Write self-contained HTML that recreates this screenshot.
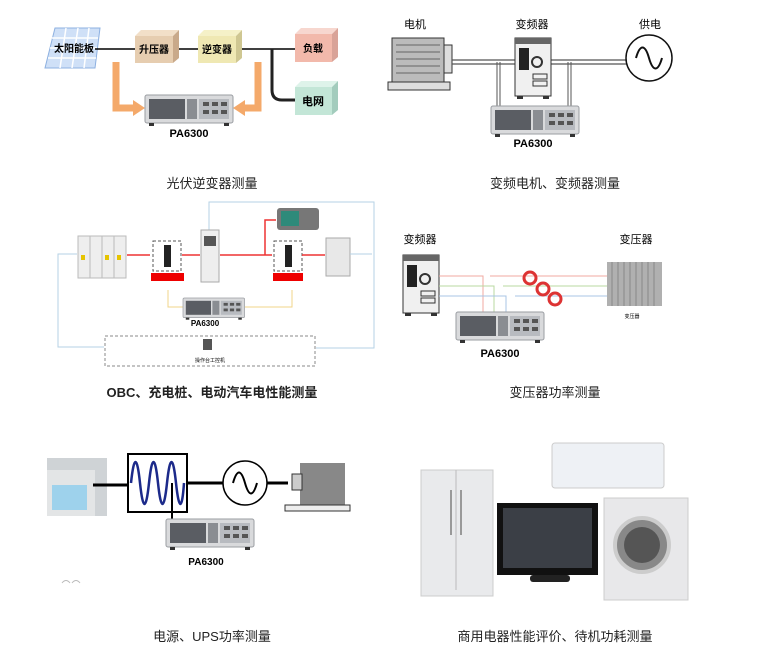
<!DOCTYPE html>
<html><head><meta charset="utf-8"><style>
html,body{margin:0;padding:0;background:#fff;}
body{width:760px;height:666px;overflow:hidden;}
svg text{font-family:"Liberation Sans","Noto Sans CJK SC",sans-serif;}
</style></head><body>
<svg width="760" height="666" viewBox="0 0 760 666" xmlns="http://www.w3.org/2000/svg">
<defs>
<g id="dev">
 <rect x="0" y="0" width="88" height="28" rx="2" fill="#d9dadc" stroke="#9a9da2"/>
 <rect x="4" y="4" width="36" height="20" fill="#5a5d63"/>
 <rect x="42" y="4" width="10" height="20" fill="#8a8d92"/>
 <rect x="54" y="4" width="30" height="20" fill="#b8bbc0"/>
 <rect x="58" y="7" width="6" height="4" fill="#555"/><rect x="67" y="7" width="6" height="4" fill="#555"/><rect x="76" y="7" width="6" height="4" fill="#555"/>
 <rect x="58" y="15" width="6" height="4" fill="#555"/><rect x="67" y="15" width="6" height="4" fill="#555"/><rect x="76" y="15" width="6" height="4" fill="#555"/>
 <rect x="4" y="28" width="5" height="3" fill="#333"/><rect x="79" y="28" width="5" height="3" fill="#333"/>
</g>
<g id="inv">
 <rect x="0" y="0" width="36" height="58" fill="#f0f0f0" stroke="#333"/>
 <rect x="0" y="0" width="36" height="6" fill="#666"/>
 <rect x="4" y="10" width="10" height="22" fill="#222"/>
 <circle cx="22" cy="24" r="5" fill="none" stroke="#333" stroke-width="2"/>
 <rect x="18" y="36" width="14" height="5" fill="none" stroke="#333"/>
 <rect x="18" y="43" width="14" height="5" fill="none" stroke="#333"/>
 <rect x="2" y="58" width="6" height="3" fill="#333"/><rect x="28" y="58" width="6" height="3" fill="#333"/>
</g>
</defs>

<!-- Panel 1 -->
<g>
 <polygon points="55,28 100,28 95,68 45,68" fill="#cfe0f7" stroke="#8db0e0"/>
 <path d="M52,38 H98 M50,48 H97 M48,58 H96 M66,28 L60,68 M78,28 L72,68 M89,28 L84,68" stroke="#fff" stroke-width="1.5"/>
 <line x1="95" y1="49" x2="295" y2="49" stroke="#000" stroke-width="1.5"/>
 <path d="M272,49 V90 Q272,100 282,100 H295" fill="none" stroke="#222" stroke-width="3"/>
 <polygon points="135,36 141,30 179,30 173,36" fill="#f2dfc8"/><polygon points="173,36 179,30 179,58 173,63" fill="#c9a98a"/>
 <rect x="135" y="36" width="38" height="27" fill="#e6cdb0"/>
 <polygon points="198,36 204,30 242,30 236,36" fill="#f5f1c8"/><polygon points="236,36 242,30 242,58 236,63" fill="#cfc792"/>
 <rect x="198" y="36" width="38" height="27" fill="#efe8b3"/>
 <polygon points="295,34 301,28 338,28 332,34" fill="#f7d7cf"/><polygon points="332,34 338,28 338,57 332,62" fill="#d9a398"/>
 <rect x="295" y="34" width="37" height="28" fill="#f2b9ab"/>
 <polygon points="295,87 301,81 338,81 332,87" fill="#def3ea"/><polygon points="332,87 338,81 338,110 332,115" fill="#a3ccbd"/>
 <rect x="295" y="87" width="37" height="28" fill="#c3e6d7"/>
 <text x="74" y="52" font-size="10" font-weight="bold" text-anchor="middle">太阳能板</text>
 <text x="154" y="53" font-size="10" font-weight="bold" text-anchor="middle">升压器</text>
 <text x="217" y="53" font-size="10" font-weight="bold" text-anchor="middle">逆变器</text>
 <text x="313" y="52" font-size="10" font-weight="bold" text-anchor="middle">负载</text>
 <text x="313" y="105" font-size="11" font-weight="bold" text-anchor="middle">电网</text>
 <path d="M116,62 V108 H133" fill="none" stroke="#f4a96a" stroke-width="7"/>
 <polygon points="133,100 145,108 133,116" fill="#f4a96a"/>
 <path d="M258,62 V108 H245" fill="none" stroke="#f4a96a" stroke-width="7"/>
 <polygon points="245,100 233,108 245,116" fill="#f4a96a"/>
 <use href="#dev" x="145" y="95"/>
 <text x="189" y="137" font-size="11" font-weight="bold" text-anchor="middle">PA6300</text>
 <text x="212" y="188" font-size="13" text-anchor="middle" fill="#222">光伏逆变器测量</text>
</g>

<!-- Panel 2 -->
<g>
 <text x="415" y="28" font-size="11" text-anchor="middle">电机</text>
 <text x="532" y="28" font-size="11" text-anchor="middle">变频器</text>
 <text x="650" y="28" font-size="11" text-anchor="middle">供电</text>
 <rect x="392" y="38" width="52" height="44" fill="#bbb" stroke="#333"/>
 <path d="M396,45 H440 M396,52 H440 M396,59 H440 M396,66 H440 M396,73 H440" stroke="#666"/>
 <rect x="444" y="45" width="8" height="28" fill="#ddd" stroke="#333"/>
 <rect x="388" y="82" width="62" height="8" fill="#ddd" stroke="#333"/>
 <path d="M452,60 H628 M452,64 H628" stroke="#555" stroke-width="1.3"/>
 <path d="M497,62 V108 M500,62 V108 M568,62 V108 M571,62 V108" stroke="#555"/>
 <use href="#inv" x="515" y="38"/>
 <circle cx="649" cy="58" r="23" fill="#fff" stroke="#111" stroke-width="1.5"/>
 <path d="M636,58 C640,44 645,44 649,58 C653,72 658,72 662,58" fill="none" stroke="#111" stroke-width="2"/>
 <use href="#dev" x="491" y="106"/>
 <text x="533" y="147" font-size="11" font-weight="bold" text-anchor="middle">PA6300</text>
 <text x="555" y="188" font-size="13" text-anchor="middle" fill="#222">变频电机、变频器测量</text>
</g>

<!-- Panel 3 -->
<g>
 <path d="M209,235 V202 H374 V348 H316" fill="none" stroke="#b6d2e4"/>
 <path d="M77,254 H58 V347 H104" fill="none" stroke="#b6d2e4"/>
 <rect x="105" y="336" width="210" height="30" fill="none" stroke="#888" stroke-dasharray="3,2"/>
 <rect x="78" y="236" width="48" height="42" fill="#eeeeee" stroke="#bbb"/>
 <path d="M90,236 V278 M102,236 V278 M114,236 V278" stroke="#bbb"/>
 <rect x="81" y="255" width="4" height="5" fill="#e6c400"/><rect x="105" y="255" width="4" height="5" fill="#e6c400"/><rect x="117" y="255" width="4" height="5" fill="#e6c400"/>
 <line x1="127" y1="255" x2="150" y2="255" stroke="#e33" stroke-width="1.5"/>
 <rect x="153" y="241" width="28" height="30" fill="none" stroke="#555" stroke-dasharray="3,2"/>
 <rect x="164" y="245" width="7" height="22" fill="#222"/>
 <rect x="151" y="273" width="33" height="8" fill="#e00"/>
 <line x1="182" y1="255" x2="200" y2="255" stroke="#e33" stroke-width="1.5"/>
 <rect x="201" y="230" width="18" height="52" fill="#eee" stroke="#aaa"/>
 <rect x="204" y="236" width="12" height="10" fill="#555"/>
 <line x1="220" y1="255" x2="272" y2="255" stroke="#e33" stroke-width="1.5"/>
 <path d="M265,255 V220 H276" fill="none" stroke="#e33" stroke-width="1.5"/>
 <rect x="277" y="208" width="42" height="22" rx="3" fill="#777"/>
 <rect x="281" y="211" width="18" height="15" fill="#2e8a7a"/>
 <rect x="274" y="241" width="28" height="30" fill="none" stroke="#555" stroke-dasharray="3,2"/>
 <rect x="285" y="245" width="7" height="22" fill="#222"/>
 <rect x="273" y="273" width="30" height="8" fill="#e00"/>
 <line x1="302" y1="255" x2="325" y2="255" stroke="#e33" stroke-width="1.5"/>
 <rect x="326" y="238" width="24" height="38" fill="#e8e8e8" stroke="#aaa"/>
 <path d="M350,254 H372" stroke="#b6d2e4"/>
 <path d="M168,290 V307 H183 M292,290 V307 H245" fill="none" stroke="#f1d48a"/>
 <use href="#dev" transform="translate(183,298) scale(0.7)"/>
 <text x="205" y="326" font-size="8" font-weight="bold" text-anchor="middle">PA6300</text>
 <rect x="203" y="339" width="9" height="11" fill="#555"/>
 <text x="210" y="362" font-size="5" text-anchor="middle">操作台工控机</text>
 <text x="212" y="397" font-size="13" font-weight="bold" text-anchor="middle" fill="#222">OBC、充电桩、电动汽车电性能测量</text>
</g>

<!-- Panel 4 -->
<g>
 <text x="420" y="243" font-size="11" text-anchor="middle">变频器</text>
 <text x="636" y="243" font-size="11" text-anchor="middle">变压器</text>
 <use href="#inv" x="403" y="255"/>
 <path d="M439,276 H483 V312 M490,276 H608" fill="none" stroke="#f0a8a0"/>
 <path d="M439,286 H494 V312 M503,286 H608" fill="none" stroke="#b8d9a0"/>
 <path d="M439,296 H506 V312 M515,296 H608" fill="none" stroke="#a8c4e4"/>
 <circle cx="530" cy="278" r="6" fill="none" stroke="#d33" stroke-width="3"/>
 <circle cx="543" cy="289" r="6" fill="none" stroke="#d33" stroke-width="3"/>
 <circle cx="555" cy="299" r="6" fill="none" stroke="#d33" stroke-width="3"/>
 <rect x="607" y="262" width="55" height="44" fill="#b0b0b0"/>
 <path d="M612,262 V306 M618,262 V306 M624,262 V306 M630,262 V306 M636,262 V306 M642,262 V306 M648,262 V306 M654,262 V306" stroke="#888"/>
 <text x="632" y="318" font-size="5" text-anchor="middle">变压器</text>
 <use href="#dev" x="456" y="312"/>
 <text x="500" y="357" font-size="11" font-weight="bold" text-anchor="middle">PA6300</text>
 <text x="555" y="397" font-size="13" text-anchor="middle" fill="#222">变压器功率测量</text>
</g>

<!-- Panel 5 -->
<g>
 <rect x="47" y="458" width="60" height="58" fill="#cfd3d6"/>
 <rect x="47" y="470" width="48" height="46" fill="#e3e5e6"/>
 <rect x="52" y="485" width="35" height="25" fill="#9ed2ec"/>
 <line x1="93" y1="485" x2="128" y2="485" stroke="#000" stroke-width="3"/>
 <rect x="128" y="454" width="59" height="58" fill="#fff" stroke="#000" stroke-width="2"/>
 <path d="M131,483 C134,455 137,455 140,483 C143,511 146,511 149,483 C152,455 155,455 158,483 C161,511 164,511 167,483 C170,455 173,455 176,483 C179,511 182,511 184,483" fill="none" stroke="#1c2a8a" stroke-width="2.5"/>
 <line x1="187" y1="483" x2="223" y2="483" stroke="#000" stroke-width="3"/>
 <line x1="172" y1="483" x2="172" y2="520" stroke="#000" stroke-width="2"/>
 <circle cx="245" cy="483" r="22" fill="#fff" stroke="#000" stroke-width="1.5"/>
 <path d="M233,483 C237,469 241,469 245,483 C249,497 253,497 257,483" fill="none" stroke="#000" stroke-width="2"/>
 <line x1="267" y1="483" x2="288" y2="483" stroke="#000" stroke-width="3"/>
 <rect x="300" y="463" width="45" height="42" fill="#888"/>
 <rect x="292" y="474" width="10" height="16" fill="#ccc" stroke="#333"/>
 <rect x="285" y="505" width="65" height="6" fill="#eee" stroke="#333"/>
 <use href="#dev" x="166" y="519"/>
 <text x="206" y="565" font-size="10" font-weight="bold" text-anchor="middle">PA6300</text>
 <path d="M62,583 Q66,578 70,583 M72,583 Q76,578 80,583" fill="none" stroke="#bbb"/>
 <text x="212" y="641" font-size="13" text-anchor="middle" fill="#222">电源、UPS功率测量</text>
</g>

<!-- Panel 6 -->
<g>
 <rect x="421" y="470" width="72" height="126" fill="#e9eaec" stroke="#ccc"/>
 <line x1="456" y1="470" x2="456" y2="590" stroke="#bbb"/>
 <rect x="450" y="490" width="2" height="45" fill="#999"/><rect x="460" y="490" width="2" height="45" fill="#999"/>
 <rect x="552" y="443" width="112" height="45" rx="3" fill="#eef1f5" stroke="#ccc"/>
 <rect x="497" y="503" width="101" height="72" fill="#111"/>
 <rect x="503" y="508" width="89" height="60" fill="#3b3f46"/>
 <rect x="530" y="575" width="40" height="7" rx="3" fill="#222"/>
 <rect x="604" y="498" width="84" height="102" fill="#e8e8ea" stroke="#ccc"/>
 <circle cx="642" cy="545" r="27" fill="#888" stroke="#ccc" stroke-width="4"/>
 <circle cx="642" cy="545" r="18" fill="#555"/>
 <text x="555" y="641" font-size="13" text-anchor="middle" fill="#222">商用电器性能评价、待机功耗测量</text>
</g>
</svg>
</body></html>
